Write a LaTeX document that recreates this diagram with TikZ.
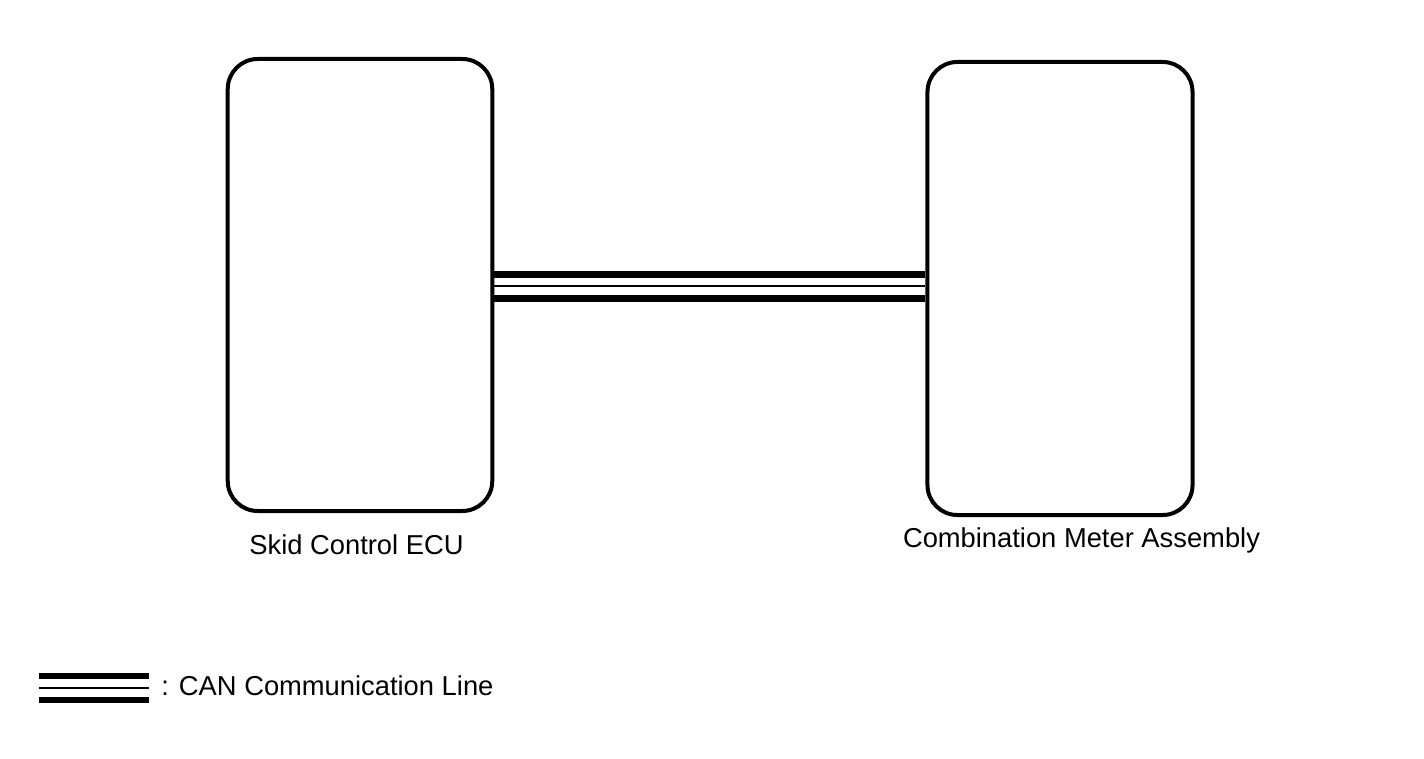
\documentclass[tikz,border=0pt]{standalone}
\usepackage{fontspec}
\setmainfont{Liberation Sans}
\usepackage{tikz}
\usetikzlibrary{positioning}

\begin{document}
\begin{tikzpicture}[x=0.75pt, y=-0.75pt,
    ecubox/.style={draw, line width=3pt, rounded corners=22.5pt, inner sep=0pt},
    canthick/.style={line width=4.8pt},
    canthin/.style={line width=2.2pt},
    lbl/.style={font=\fontsize{20.5pt}{24pt}\selectfont, inner sep=0pt, anchor=base}]
    \useasboundingbox (0,0) rectangle (1424,759);

    % Steuergeraete
    \node[ecubox, minimum width=198.4pt, minimum height=339pt] (ecu) at (360,285) {};
    \node[ecubox, minimum width=198.8pt, minimum height=339.8pt] (meter) at (1060,288.5) {};
    \node[lbl] (ecutxt) at (356.5,554) {Skid Control ECU};
    \node[lbl] (metertxt) at (1081.5,547) {Combination Meter Assembly};

    % CAN-Leitung
    \coordinate (canA) at (0,274.5);
    \coordinate (canB) at (0,286);
    \coordinate (canC) at (0,298.5);
    \draw[canthick] (ecu.east |- canA) -- (meter.west |- canA);
    \draw[canthin] (ecu.east |- canB) -- (meter.west |- canB);
    \draw[canthick] (ecu.east |- canC) -- (meter.west |- canC);

    % Legende
    \coordinate (legA) at (39,688);
    \coordinate (legB) at (149,688);
    \draw[canthick] ([yshift=9pt]legA) -- ([yshift=9pt]legB);
    \draw[canthin] (legA) -- (legB);
    \draw[canthick] ([yshift=-8.8pt]legA) -- ([yshift=-8.8pt]legB);
    \node[lbl, anchor=base west] (legtxt) at (161,695.7) {: CAN Communication Line};
\end{tikzpicture}
\end{document}
